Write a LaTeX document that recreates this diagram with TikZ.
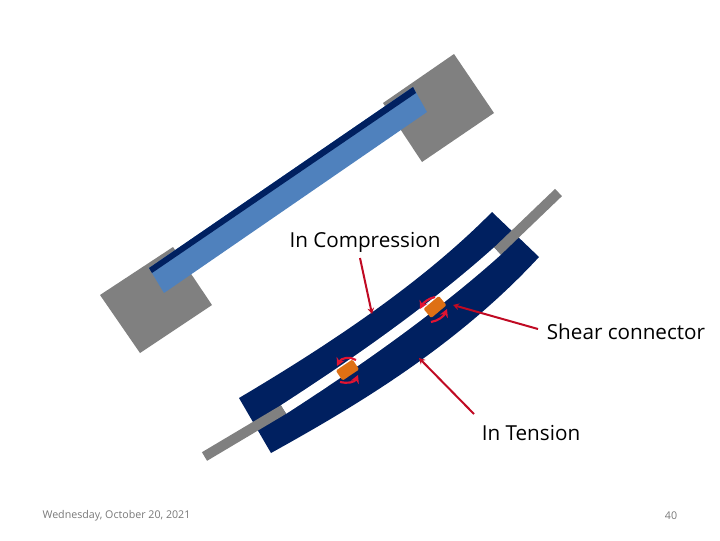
\documentclass[tikz,border=0pt]{standalone}
\usepackage{fontspec}
\usetikzlibrary{arrows.meta}
\setmainfont{Open Sans}
\definecolor{beamnavy}{RGB}{0,32,96}
\definecolor{deckblue}{RGB}{79,129,189}
\definecolor{blockgray}{RGB}{128,128,128}
\definecolor{shearorange}{RGB}{222,112,20}
\definecolor{calloutred}{RGB}{192,10,35}
\definecolor{twistred}{RGB}{225,20,50}
\definecolor{footgray}{RGB}{120,120,120}
\tikzset{%
  callout/.style={
    font=\fontsize{15.5pt}{18pt}\selectfont,
    inner sep=0pt
  },
  footer/.style={
    font=\fontsize{8pt}{9pt}\selectfont,
    text=footgray,
    inner sep=0pt
  },
  pointer/.style={
    draw=calloutred,
    line width=1.5pt,
    -{Stealth[length=4.5pt,width=5pt]}
  },
  twist/.style={
    draw=twistred,
    line width=1.6pt,
    -{Stealth[length=6pt,width=6.5pt]}
  },
  connector/.style={
    rectangle,
    rounded corners=1pt,
    fill=shearorange,
    minimum width=15pt,
    minimum height=9pt,
    inner sep=0pt
  },
  rod/.style={
    draw=blockgray,
    line width=7.5pt
  },
}
\begin{document}
\begin{tikzpicture}[x=0.75pt,y=-0.75pt]
\useasboundingbox (0,0) rectangle (720,540);
% upper picture
\fill[blockgray] (454,54) -- (494,113) -- (422,162) -- (383,103) -- cycle;
\fill[blockgray] (100,295) -- (173,247) -- (212,305) -- (140,353) -- cycle;
\fill[deckblue] (149,268) -- (413,87) -- (427,112) -- (164,293) -- cycle;
\fill[beamnavy] (149,268) -- (413,87) -- (416,93) -- (152,273) -- cycle;
% lower picture
\fill[beamnavy] (239,398) .. controls (325,347) and (420,285) .. (492,212)
  -- (539,257) .. controls (455,348) and (352,408) .. (271,453) -- cycle;
\coordinate (gap left) at (283.5,409.5);
\coordinate (gap right) at (497.5,251);
\coordinate (rod left) at (204.5,456.5);
\coordinate (rod right) at (558.5,192.5);
\draw[white,line width=7.5pt] (gap left) .. controls (340,373) and (425,316) .. (gap right);
\draw[rod] (rod left) -- (gap left);
\draw[rod] (rod right) -- (gap right);
\node[connector,rotate=34] (shear one) at (347.5,370) {};
\node[connector,rotate=40] (shear two) at (435,307) {};
% twisting arrows
\coordinate (one a) at (356,360);
\coordinate (one b) at (337,366);
\coordinate (one c) at (340,382);
\coordinate (one d) at (358,375);
\coordinate (two a) at (435,297);
\coordinate (two b) at (420,309);
\coordinate (two c) at (431,322);
\coordinate (two d) at (447,309);
\draw[twist] (one a) .. controls (350,356) and (341,358) .. (one b);
\draw[twist] (one c) .. controls (347,384) and (355,382) .. (one d);
\draw[twist] (two a) .. controls (429,298) and (423,303) .. (two b);
\draw[twist] (two c) .. controls (438,321) and (444,316) .. (two d);
% labels
\node[callout] (compression) at (365,242) {In Compression};
\node[callout] (shear) at (626,332) {Shear connector};
\node[callout] (tension) at (531,433) {In Tension};
\coordinate (compression tip) at (372,314);
\coordinate (shear tip) at (453,305);
\coordinate (tension tip) at (419,358);
\draw[pointer] (360,258) -- (compression tip);
\draw[pointer] (538,329) -- (shear tip);
\draw[pointer] (474,414) -- (tension tip);
\node[footer] (date) at (116.5,516) {Wednesday, October 20, 2021};
\node[footer] (page) at (671,516) {40};
\end{tikzpicture}
\end{document}
